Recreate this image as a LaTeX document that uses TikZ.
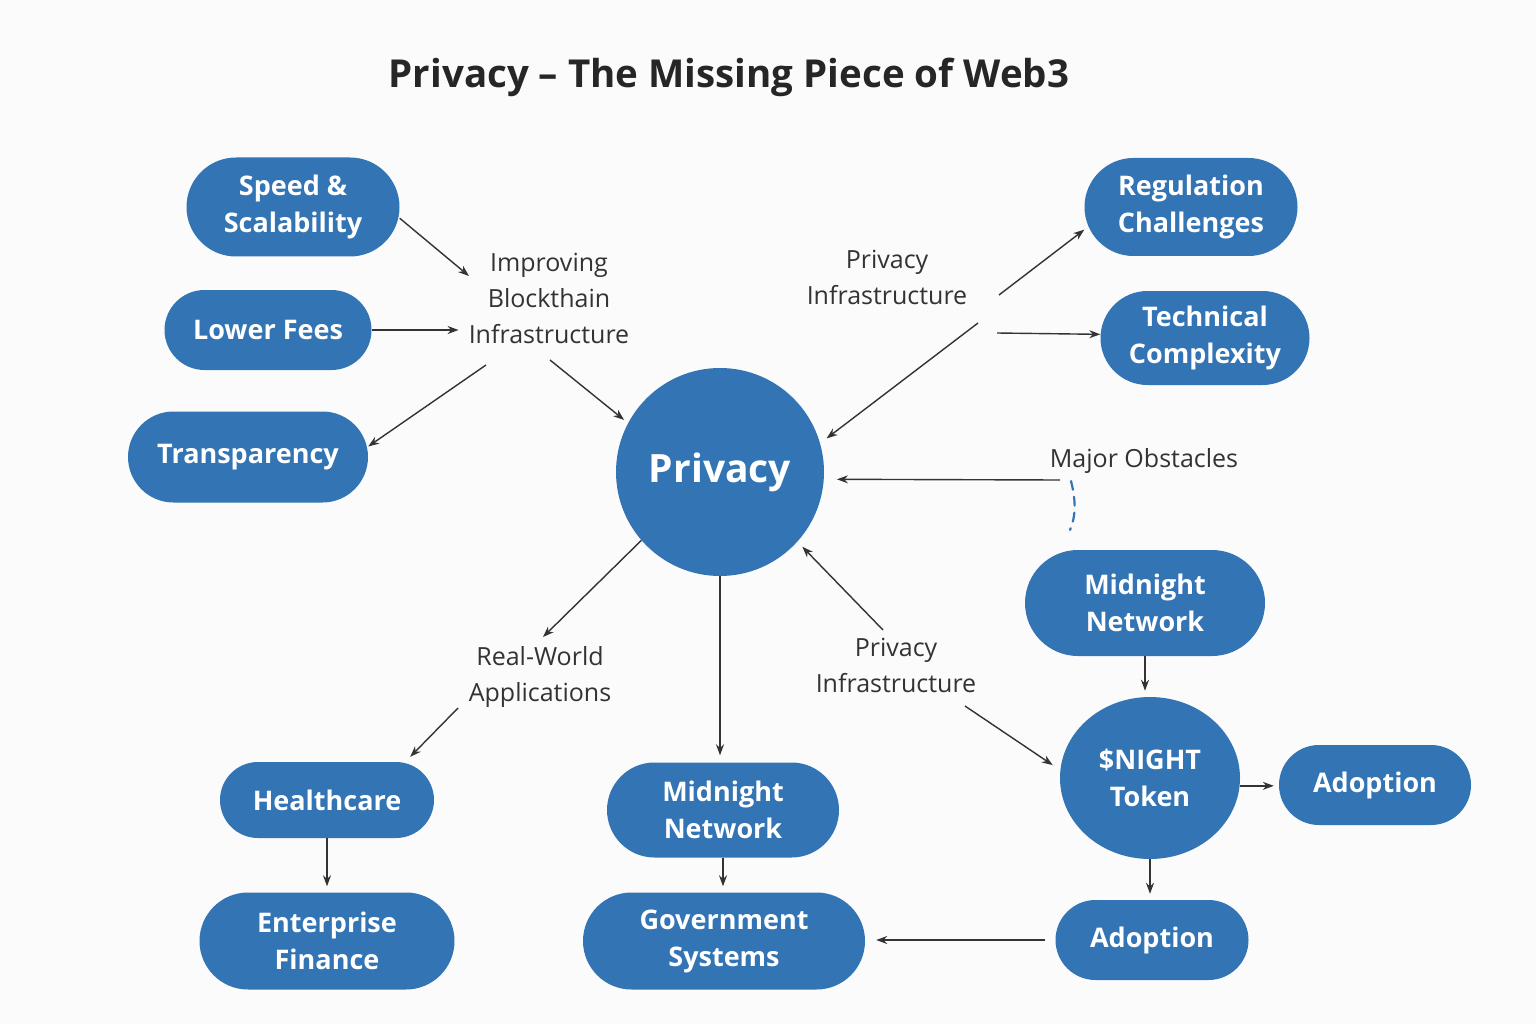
\documentclass[tikz,border=0pt]{standalone}
\usepackage{fontspec}
\setmainfont{Open Sans}
\usetikzlibrary{arrows.meta,shapes.geometric}
\definecolor{nodeblue}{HTML}{3374B4}
\definecolor{inkgray}{HTML}{333333}
\definecolor{titlegray}{HTML}{262626}
\definecolor{paper}{HTML}{FBFBFC}

\begin{document}
\begin{tikzpicture}[x=1pt, y=-1pt,
		pill/.style 2 args={rectangle, fill=nodeblue, text=white, inner xsep=0pt, minimum width=#1pt, minimum height=#2pt, rounded corners={#2pt/2}, align=center, font=\fontsize{27}{37}\selectfont\bfseries},
		lbl/.style={text=inkgray, inner sep=0pt, align=center, font=\fontsize{25}{36}\selectfont},
		arr/.style={draw=inkgray, line width=1.4pt, -{Stealth[length=11pt,width=8pt]}}]
		%%%%% START %%%%%
		
		\useasboundingbox (0,0) rectangle (1536,1024);
		\fill[paper] (0,0) rectangle (1536,1024);
		
		\node[font=\fontsize{38.5}{46}\selectfont\bfseries, text=titlegray, anchor=base] (title) at (729,88) {Privacy – The Missing Piece of Web3};
		
		\node[pill={213}{99}] (speed) at (293,207) {Speed \&\\Scalability};
		\node[pill={207}{80}] (fees) at (268,330) {Lower Fees};
		\node[pill={240}{91}] (transp) at (248,457) {Transparency};
		
		\node[circle, fill=nodeblue, text=white, minimum size=208pt, inner sep=0pt, font=\fontsize{39}{46}\selectfont\bfseries] (privacy) at (720,472) {\raisebox{-3pt}{Privacy}};
		
		\node[pill={213}{98}] (regul) at (1191,207) {Regulation\\Challenges};
		\node[pill={209}{94}] (tech) at (1205,338) {Technical\\Complexity};
		
		\node[pill={240}{106}] (mnright) at (1145,603) {Midnight\\Network};
		\node[ellipse, fill=nodeblue, text=white, minimum width=180pt, minimum height=162pt, inner sep=0pt, align=center, font=\fontsize{27}{37}\selectfont\bfseries] (night) at (1150,778) {\$NIGHT\\Token};
		\node[pill={192}{80}] (adoptR) at (1375,785) {Adoption};
		\node[pill={193}{80}] (adoptB) at (1152,940) {Adoption};
		
		\node[pill={214}{76}] (health) at (327,800) {Healthcare};
		\node[pill={255}{97}] (enterp) at (327,941) {Enterprise\\Finance};
		\node[pill={232}{95}] (mnmid) at (723,810) {Midnight\\Network};
		\node[pill={282}{97}] (govt) at (724,941) {Government\\Systems};
		
		\node[lbl] (improve) at (549,298) {Improving\\Blockthain\\Infrastructure};
		\node[lbl] (pinfra) at (887,277) {Privacy\\Infrastructure};
		\node[lbl, anchor=base] (obst) at (1144,467) {Major Obstacles};
		\node[lbl] (realw) at (540,677) {Real-World\\Applications};
		\node[lbl] (pinfrab) at (896,665) {Privacy\\Infrastructure};
		
		% left side
		\draw[arr] (speed.-6) -- ([shift={(-80,-22)}]improve.center);
		\draw[arr, shorten >=10pt] (fees.east) -- (fees.east -| improve.west);
		\draw[arr] ([shift={(-63,67)}]improve.center) -- (transp.5);
		\draw[arr, shorten >=5pt] ([shift={(1,62)}]improve.center) -- (privacy.152);
		
		% right side
		\draw[arr, shorten >=8pt] ([shift={(91,46)}]pinfra.center) -- (privacy.16);
		\draw[arr] ([shift={(112,18)}]pinfra.center) -- (regul.192);
		\draw[arr] ([shift={(110,56)}]pinfra.center) -- (tech.178);
		
		\draw[arr, shorten >=13pt] ([shift={(-84,13)}]obst.base) -- (privacy.-4);
		\draw[nodeblue, line width=2.2pt, dash pattern=on 9pt off 7pt, line cap=round] ([shift={(-73,14)}]obst.base) .. controls +(5,20) and +(6,-14) .. ([shift={(-74,63)}]obst.base);
		
		% bottom
		\draw[arr] (privacy.221) -- ([shift={(3,-40)}]realw.center);
		\draw[arr, shorten >=7pt] ([shift={(-82,31)}]realw.center) -- (health.26);
		\draw[arr, shorten >=7pt] (privacy.south) -- (privacy.south |- mnmid.north);
		\draw[arr, shorten >=7pt] ([shift={(-13,-35)}]pinfrab.center) -- (privacy.-42);
		\draw[arr, shorten >=9pt] ([shift={(69,41)}]pinfrab.center) -- (night.175);
		
		\draw[arr, shorten >=6pt] (mnright.south) -- (mnright.south |- night.north);
		\draw[arr, shorten >=5pt] (night.-5) -- (night.-5 -| adoptR.west);
		\draw[arr, shorten >=6pt] (night.south) -- (night.south |- adoptB.north);
		\draw[arr, shorten <=10pt, shorten >=11pt] (adoptB.west) -- (adoptB.west -| govt.east);
		\draw[arr, shorten >=6pt] (health.south) -- (health.south |- enterp.north);
		\draw[arr, shorten >=6pt] (mnmid.south) -- (mnmid.south |- govt.north);
		
		%%%%% END %%%%%
	\end{tikzpicture}
\end{document}
